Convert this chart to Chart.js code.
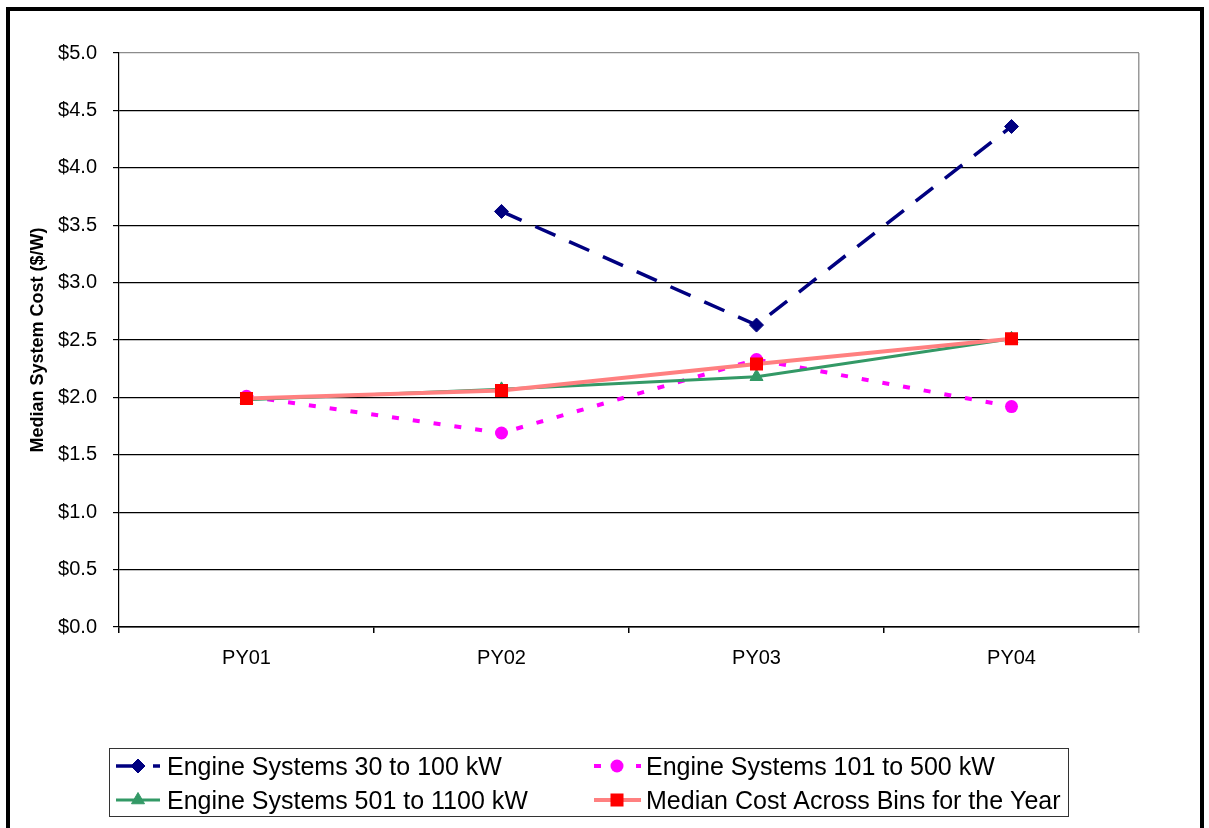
<!DOCTYPE html>
<html>
<head>
<meta charset="utf-8">
<title>Median System Cost by Program Year</title>
<script src="https://cdn.jsdelivr.net/npm/chart.js@4.4.1/dist/chart.umd.min.js"></script>
<style>
  html, body { margin: 0; padding: 0; background: #fff; }
  #wrap { width: 1209px; height: 828px; position: relative; }
</style>
</head>
<body>
<div id="wrap"><canvas id="chart" width="1209" height="828"></canvas></div>
<script>
// Program years on the x axis
const categories = ['PY01', 'PY02', 'PY03', 'PY04'];

// Median installed cost, $/W
const engines30to100 = [null, 3.62, 2.63, 4.36];
const engines101to500 = [2.01, 1.69, 2.33, 1.92];
const engines501to1100 = [1.98, 2.07, 2.18, 2.51];
const medianAcrossBins = [1.99, 2.06, 2.29, 2.51];

// Value axis
const yMin = 0;
const yMax = 5;
const yStep = 0.5;

const seriesNames = [
  'Engine Systems 30 to 100 kW',
  'Engine Systems 101 to 500 kW',
  'Engine Systems 501 to 1100 kW',
  'Median Cost Across Bins for the Year'
];

const FONT = '"Liberation Sans", Arial, Helvetica, sans-serif';
Chart.defaults.font.family = FONT;
Chart.defaults.color = '#000';

const datasets = [
  {
    label: seriesNames[0],
    data: engines30to100,
    borderColor: '#000080',
    backgroundColor: '#000080',
    borderWidth: 3.5,
    borderDash: [22, 15],
    pointStyle: 'rectRot',
    pointRadius: 7,
    pointBorderWidth: 1,
    order: 0
  },
  {
    label: seriesNames[1],
    data: engines101to500,
    borderColor: '#FF00FF',
    backgroundColor: '#FF00FF',
    borderWidth: 4,
    borderDash: [7, 14],
    pointStyle: 'circle',
    pointRadius: 6.5,
    pointBorderWidth: 0,
    order: 3
  },
  {
    label: seriesNames[2],
    data: engines501to1100,
    borderColor: '#339966',
    backgroundColor: '#339966',
    borderWidth: 3,
    pointStyle: 'triangle',
    pointRadius: 7.5,
    pointBorderWidth: 1,
    order: 2
  },
  {
    label: seriesNames[3],
    data: medianAcrossBins,
    borderColor: '#FF8080',
    backgroundColor: '#FF0000',
    pointBorderColor: '#FF0000',
    borderWidth: 4,
    pointStyle: 'rect',
    pointRadius: 9.2,
    pointBorderWidth: 0,
    order: 1
  }
];

// White page with the heavy black frame around the chart
const framePlugin = {
  id: 'frame',
  beforeDraw(chart) {
    const ctx = chart.ctx;
    ctx.save();
    ctx.fillStyle = '#fff';
    ctx.fillRect(0, 0, chart.width, chart.height);
    ctx.restore();
  },
  afterDraw(chart) {
    const ctx = chart.ctx;
    ctx.save();
    ctx.strokeStyle = '#000';
    ctx.lineWidth = 4;
    ctx.strokeRect(8, 9, 1194, chart.height + 20);
    ctx.restore();
  }
};

// Boxed two-column legend under the plot
const boxLegendPlugin = {
  id: 'boxLegend',
  afterDraw(chart) {
    const ctx = chart.ctx;
    const drawPoint = (Chart.helpers && Chart.helpers.drawPoint) ? Chart.helpers.drawPoint : null;
    const box = { x: 109.5, y: 748.5, w: 959, h: 68 };
    const cols = [{ lineFrom: 116, lineTo: 160, marker: 138, text: 167 },
                  { lineFrom: 594, lineTo: 641, marker: 617, text: 646 }];
    const rows = [{ mid: 766, base: 775 }, { mid: 800, base: 809 }];

    ctx.save();
    ctx.strokeStyle = '#333';
    ctx.lineWidth = 1;
    ctx.strokeRect(box.x, box.y, box.w, box.h);

    chart.data.datasets.forEach((ds, i) => {
      const col = cols[i % 2];
      const row = rows[Math.floor(i / 2)];
      ctx.save();
      ctx.strokeStyle = ds.borderColor;
      ctx.lineWidth = ds.borderWidth;
      ctx.setLineDash(ds.borderDash || []);
      ctx.beginPath();
      ctx.moveTo(col.lineFrom, row.mid);
      ctx.lineTo(col.lineTo, row.mid);
      ctx.stroke();
      ctx.restore();

      if (drawPoint) {
        ctx.save();
        ctx.fillStyle = ds.backgroundColor;
        ctx.strokeStyle = ds.pointBorderColor || ds.borderColor;
        ctx.lineWidth = ds.pointBorderWidth || 0;
        drawPoint(ctx, { pointStyle: ds.pointStyle, radius: ds.pointRadius, rotation: 0, borderWidth: ds.pointBorderWidth || 0 }, col.marker, row.mid);
        ctx.restore();
      }

      ctx.fillStyle = '#000';
      ctx.font = '25px ' + FONT;
      ctx.textBaseline = 'alphabetic';
      ctx.textAlign = 'left';
      ctx.fillText(ds.label, col.text, row.base);
    });
    ctx.restore();
  }
};

new Chart(document.getElementById('chart'), {
  type: 'line',
  data: { labels: categories, datasets },
  plugins: [framePlugin, boxLegendPlugin],
  options: {
    responsive: false,
    animation: false,
    events: [],
    layout: { padding: { left: 12, top: 53, right: 70, bottom: 151 } },
    elements: { line: { tension: 0, fill: false } },
    plugins: {
      legend: { display: false },
      tooltip: { enabled: false },
      title: { display: false }
    },
    scales: {
      x: {
        type: 'category',
        offset: true,
        afterFit(scale) { scale.height = 50; },
        grid: {
          offset: true,
          drawOnChartArea: true,
          color: c => (c.type === 'tick' ? 'rgba(0,0,0,0)' : '#9a9a9a'),
          tickColor: c => (c.type === 'tick' ? '#000' : '#9a9a9a'),
          tickLength: 6,
          lineWidth: 1.5
        },
        border: { display: true, color: '#000', width: 1.5 },
        ticks: {
          font: { size: 20 },
          color: '#000',
          padding: 13,
          maxRotation: 0
        }
      },
      y: {
        min: yMin,
        max: yMax,
        afterFit(scale) { scale.width = 107; },
        grid: {
          color: c => (c.tick && c.tick.value === yMax ? '#8c8c8c' : '#000'),
          tickColor: '#000',
          tickLength: 6,
          lineWidth: 1.2
        },
        border: { display: true, color: '#000', width: 1.2 },
        ticks: {
          stepSize: yStep,
          font: { size: 20 },
          color: '#000',
          padding: 16,
          callback: v => '$' + Number(v).toFixed(1)
        },
        title: {
          display: true,
          text: 'Median System Cost ($/W)',
          font: { size: 18, weight: 'bold' },
          color: '#000',
          padding: { top: 15, bottom: 0 }
        }
      }
    }
  }
});
</script>
</body>
</html>
